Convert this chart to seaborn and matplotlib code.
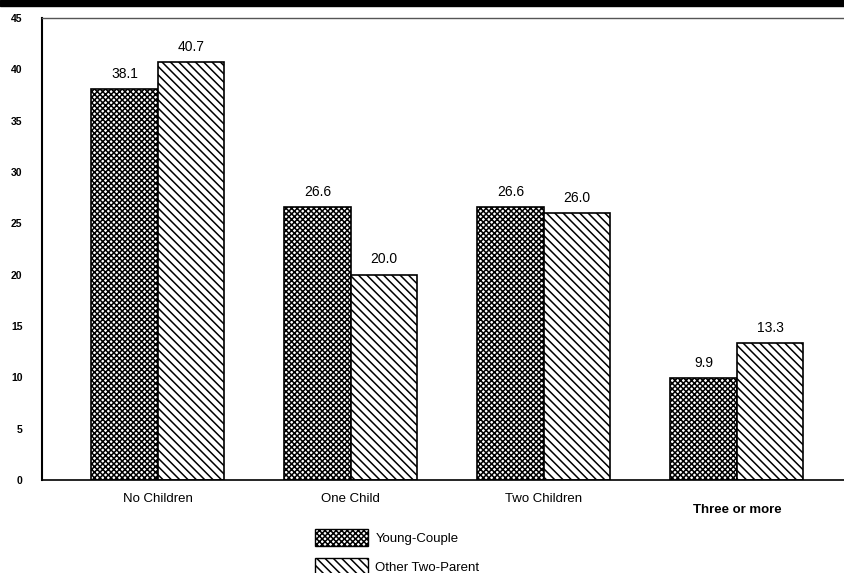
import matplotlib
matplotlib.use("Agg")
import matplotlib.pyplot as plt
from matplotlib.patches import Patch, Rectangle
import seaborn as sns
import pandas as pd

# values
categories = ["No Children", "One Child", "Two Children", "Three or more"]
young_couple = [38.1, 26.6, 26.6, 9.9]
other_two_parent = [40.7, 20.0, 26.0, 13.3]
series_names = ["Young-Couple", "Other Two-Parent"]
y_ticks = [0, 5, 10, 15, 20, 25, 30, 35, 40, 45]

sns.set_style("white")
plt.rcParams["font.family"] = ["Liberation Sans", "DejaVu Sans"]
plt.rcParams["hatch.linewidth"] = 1.1
plt.rcParams["text.color"] = "black"
plt.rcParams["xtick.color"] = "black"
plt.rcParams["ytick.color"] = "black"

df = pd.DataFrame({
    "Children": categories * 2,
    "Percent": young_couple + other_two_parent,
    "Family": [series_names[0]] * 4 + [series_names[1]] * 4,
})

fig = plt.figure(figsize=(8.45, 5.73), dpi=100)
ax = fig.add_axes([0.0497, 0.1623, 0.9503, 0.8063])

sns.barplot(data=df, x="Children", y="Percent", hue="Family",
            palette=["white", "white"], edgecolor="black", linewidth=1.2,
            width=0.69, legend=False, ax=ax)

hatches = ["xxxxxx", "\\\\\\\\"]
for cont, h in zip(ax.containers, hatches):
    for bar in cont:
        bar.set_hatch(h)
    ax.bar_label(cont, fmt="%.1f", padding=6, fontsize=10)

ax.set_ylim(0, 45)
ax.set_xlim(-0.60, 3.56)
ax.set_yticks(y_ticks)
ax.set_yticklabels([str(t) for t in y_ticks], fontsize=7.5, fontweight="bold")
ax.tick_params(axis="y", direction="in", length=10, width=1.2, pad=14)
ax.tick_params(axis="x", direction="out", length=5, width=1, labelsize=9.5, pad=4)
ax.set_xlabel("")
ax.set_ylabel("")
for lbl in ax.get_xticklabels():
    if lbl.get_text() == "Three or more":
        lbl.set_fontweight("bold")
        lbl.set_y(-0.025)

ax.spines["right"].set_visible(False)
ax.spines["left"].set_linewidth(1.5)
ax.spines["left"].set_color("black")
ax.spines["bottom"].set_linewidth(1.2)
ax.spines["bottom"].set_color("black")
ax.spines["top"].set_linewidth(1.0)
ax.spines["top"].set_color("#555555")

handles = [Patch(facecolor="white", edgecolor="black", hatch=h, label=n)
           for h, n in zip(hatches, series_names)]
fig.legend(handles=handles, loc="center", bbox_to_anchor=(0.47, 0.037),
           frameon=False, fontsize=9.5, handlelength=4.0, handleheight=1.6,
           labelspacing=0.9, handletextpad=0.6)

# black scan border at the top
fig.add_artist(Rectangle((0, 1 - 6 / 573), 1, 6 / 573,
                         transform=fig.transFigure, color="black"))

fig.savefig("out.png", dpi=100)
